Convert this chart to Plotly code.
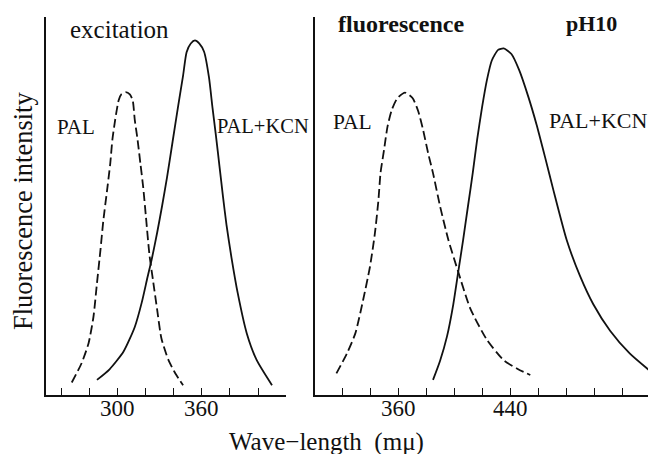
import plotly.graph_objects as go

# ---------------- data ----------------
# Excitation spectra (left panel)
ex_pal_x = [267, 274, 279, 282.5, 285, 287.5, 289.5, 292.5, 294.5, 296, 298, 300.5, 302.5,
            305.5, 308.5, 310.5, 312, 314, 316, 318, 320, 322.5, 325, 328, 331, 336, 341, 346.5]
ex_pal_y = [3.3, 8.4, 13.7, 20.7, 29.6, 38.4, 46, 55, 61.3, 67.5, 72.8, 78, 79.6,
            80.1, 79.5, 78, 72.8, 67.5, 61.3, 55, 47, 37, 30.4, 22.5, 15, 9.3, 5.7, 2.6]

ex_kcn_x = [285, 294, 304, 312, 317, 321, 324, 328, 331.5, 335, 339, 343, 346.5, 349, 352,
            355, 358, 361.5, 365, 367.5, 370, 372.5, 375, 377.5, 381, 385.5, 392, 399, 410]
ex_kcn_y = [4.0, 6.8, 11.5, 18, 24.5, 31, 35.7, 43, 50, 57.5, 67, 76.5, 84.5, 90.7, 93,
            93.8, 93, 90.8, 84, 76, 68.5, 60.5, 52.5, 45, 36.5, 27, 16.3, 9.3, 2.6]

# Fluorescence spectra (right panel)
fl_pal_x = [315.5, 323, 329, 334.5, 339.5, 343, 345.5, 347, 349.5, 352, 355, 359, 364.5,
            370, 374, 377.5, 381, 384.5, 389.5, 395.5, 402.5, 411, 423, 435, 445, 454]
fl_pal_y = [5.7, 11, 16.3, 25, 34, 42.8, 51.5, 58.7, 64.8, 71, 75.4, 78.5, 80,
            78.5, 75, 70, 64, 58.7, 50, 41, 32.6, 23, 14.6, 9.2, 6.9, 5.3]

fl_kcn_x = [384.5, 389.5, 394.5, 399, 402.5, 406, 409.5, 413, 416, 419.5, 423, 426.5, 431,
            435, 440.5, 446, 452.5, 458.5, 464.5, 470.5, 480, 489.5, 499, 511, 525, 543]
fl_kcn_y = [4, 9, 15.5, 24, 32.5, 41, 50, 59, 67.5, 76, 83.3, 88.5, 91.3,
            91.7, 90.2, 86, 79, 71.5, 63, 54.2, 41, 31.5, 24, 17, 11, 5.3]

# Axis ticks
ex_tickvals = [260, 280, 300, 320, 340, 360, 380, 400, 420]
ex_ticklabels = [300, 360]
fl_tickvals = [320, 340, 360, 380, 400, 420, 440, 460, 480, 500, 520, 540]
fl_ticklabels = [360, 440]

# ---------------- figure ----------------
# The page body has an 8px margin, so the figure is drawn 8px smaller
# and all reference-pixel positions are shifted by that offset.
OFF = 8
W, H = 656 - OFF, 454 - OFF
SERIF = "Liberation Serif, Times New Roman, serif"
INK = "#111111"

def fx(px):
    return (px - OFF) / W

def fy(py):
    return 1 - (py - OFF) / H

fig = go.Figure()

dash_line = dict(color=INK, width=1.8, dash="9px,4px", shape="spline", smoothing=0.6)
solid_line = dict(color=INK, width=1.8, shape="spline", smoothing=0.6)

fig.add_trace(go.Scatter(x=ex_pal_x, y=ex_pal_y, mode="lines", line=dash_line,
                         xaxis="x", yaxis="y", hoverinfo="skip"))
fig.add_trace(go.Scatter(x=ex_kcn_x, y=ex_kcn_y, mode="lines", line=solid_line,
                         xaxis="x", yaxis="y", hoverinfo="skip"))
fig.add_trace(go.Scatter(x=fl_pal_x, y=fl_pal_y, mode="lines", line=dash_line,
                         xaxis="x2", yaxis="y2", hoverinfo="skip"))
fig.add_trace(go.Scatter(x=fl_kcn_x, y=fl_kcn_y, mode="lines", line=solid_line,
                         xaxis="x2", yaxis="y2", hoverinfo="skip"))

ydom = [fy(395), fy(17)]

def xaxis_style(dom, rng, vals, anchor):
    return dict(domain=dom, range=rng, anchor=anchor,
                showline=True, linecolor=INK, linewidth=1.6, mirror=False,
                ticks="inside", ticklen=7, tickwidth=1, tickcolor=INK,
                tickvals=vals, showticklabels=False,
                showgrid=False, zeroline=False, fixedrange=True)

def yaxis_style(anchor):
    return dict(domain=ydom, range=[0, 100], anchor=anchor,
                showline=True, linecolor=INK, linewidth=1.6,
                showticklabels=False, ticks="", showgrid=False, zeroline=False,
                fixedrange=True)

fig.update_layout(
    width=W, height=H,
    margin=dict(l=0, r=0, t=0, b=0),
    paper_bgcolor="white", plot_bgcolor="white",
    showlegend=False,
    xaxis=xaxis_style([fx(46), fx(286)], [248.6, 420], ex_tickvals, "y"),
    yaxis=yaxis_style("x"),
    xaxis2=xaxis_style([fx(315), 1.0], [300.2, 543.8], fl_tickvals, "y2"),
    yaxis2=yaxis_style("x2"),
)

# tick labels placed at their data positions on each x axis
for xr, vals in (("x", ex_ticklabels), ("x2", fl_ticklabels)):
    for v in vals:
        fig.add_annotation(text=str(v), x=v, xref=xr, y=fy(408.5), yref="paper",
                           xanchor="center", yanchor="middle", showarrow=False,
                           font=dict(family=SERIF, size=23, color=INK))

def label(text, px, py, size, bold=False, angle=0):
    t = f"<b>{text}</b>" if bold else text
    fig.add_annotation(text=t, x=fx(px), y=fy(py), xref="paper", yref="paper",
                       xanchor="center", yanchor="middle", showarrow=False,
                       textangle=angle,
                       font=dict(family=SERIF, size=size, color=INK))

label("excitation", 119, 29, 25)
label("fluorescence", 401, 24, 24, bold=True)
label("pH10", 591, 24, 22, bold=True)
label("PAL", 76, 127, 21)
label("PAL+KCN", 263, 126, 20.5)
label("PAL", 352, 122, 21.5)
label("PAL+KCN", 598, 120, 22)
label("Fluorescence intensity", 23, 211, 26.5, angle=-90)
label("Wave\u2212length  (m\u03bc)", 326, 442, 25)

fig.write_html("out.html")
